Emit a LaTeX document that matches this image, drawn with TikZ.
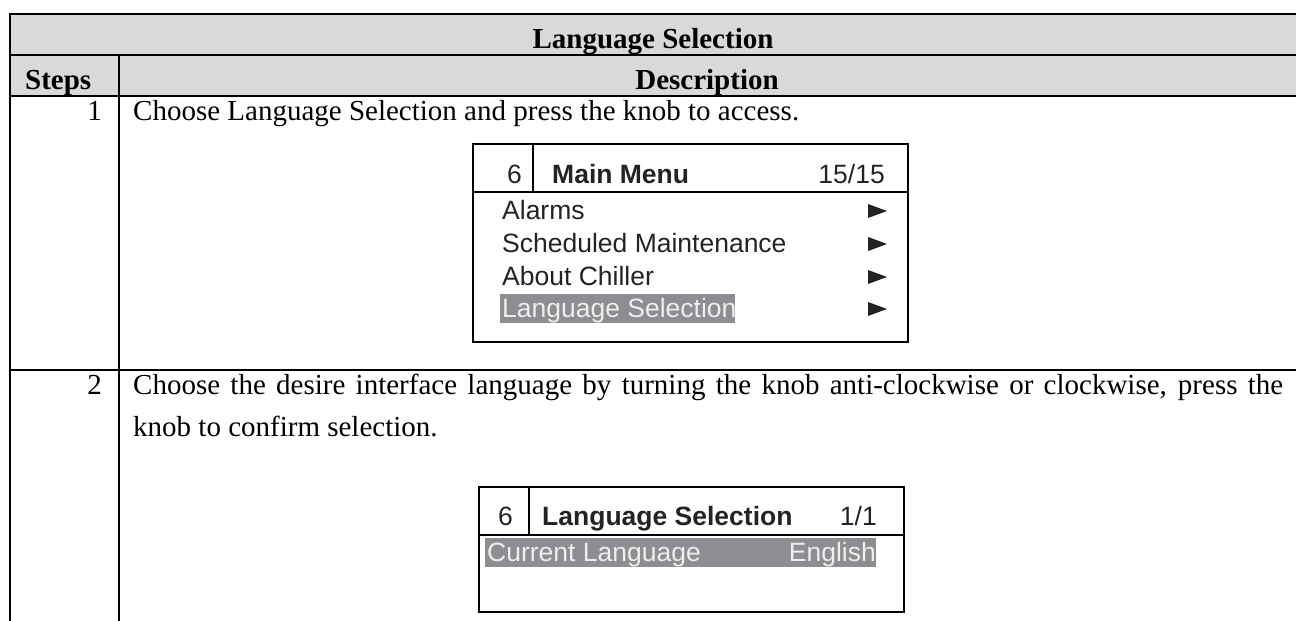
\documentclass[tikz,border=0pt]{standalone}
\usepackage{fontspec}
\setmainfont{Liberation Serif}
\newfontfamily\lcdfont{Liberation Sans}

\begin{document}
\begin{tikzpicture}[x=1pt, y=-1pt]
% Colors
\definecolor{headgray}{RGB}{217,217,217}
\definecolor{selgray}{RGB}{142,142,146}
\definecolor{lcdtext}{RGB}{35,35,35}
\definecolor{seltext}{RGB}{238,238,238}

% Styles
\tikzset{
  body/.style={inner sep=0pt, font=\fontsize{29}{35}\selectfont},
  bodybold/.style={inner sep=0pt, font=\fontsize{29}{35}\selectfont\bfseries},
  lcd/.style={inner sep=0pt, text=lcdtext, font=\lcdfont\fontsize{26.5}{32}\selectfont},
  lcdbold/.style={inner sep=0pt, text=lcdtext, font=\lcdfont\fontsize{26.5}{32}\selectfont\bfseries},
  lcdsel/.style={lcd, text=seltext},
  grid/.style={line width=2pt},
  screen/.style={line width=2.5pt}
}

\useasboundingbox (0,0) rectangle (1296,621);

% Table frame and header shading
\fill[headgray] (10,14) rectangle (1296,96);
\draw[grid] (1296,14) -- (10,14) -- (10,621);
\draw[grid] (10,55) -- (1296,55);
\draw[grid] (10,96) -- (1296,96);
\draw[grid] (10,370) -- (1296,370);
\draw[grid] (119,55) -- (119,621);

% Header texts
\node[bodybold, anchor=base] (title) at (653,48) {Language Selection};
\node[bodybold, anchor=base west] (steps) at (25,89) {Steps};
\node[bodybold, anchor=base] (desc) at (707,89) {Description};

% Step 1
\node[body, anchor=base east] (num1) at (102,120) {1};
\node[body, anchor=base west] (txt1) at (133,120) {Choose Language Selection and press the knob to access.};

% Step 1 screen: main menu
\draw[screen] (473,144) rectangle (908,342);
\draw[grid] (473,192) -- (908,192);
\draw[grid] (533,144) -- (533,192);
\node[lcd, anchor=base east] (mnum) at (522,183) {6};
\node[lcdbold, anchor=base west] (mtitle) at (552,183) {Main Menu};
\node[lcd, anchor=base east] (mpage) at (885,183) {15/15};
\foreach \t/\y [count=\i] in {Alarms/219, Scheduled Maintenance/252, About Chiller/285}{
  \node[lcd, anchor=base west] (item\i) at (502,\y) {\t};
}
\fill[selgray] (500,294) rectangle (735,323);
\node[lcdsel, anchor=base west] (item4) at (502,317) {Language Selection};
\foreach \y in {211,244,277,309}{
  \fill[lcdtext] (868,{\y-7}) -- (887,\y) -- (868,{\y+7}) -- cycle;
}

% Step 2
\node[body, anchor=base east] (num2) at (102,394) {2};
\node[body, anchor=base west] (txt2a) at (133,394) {\makebox[1150pt][s]{Choose the desire interface language by turning the knob anti-clockwise or clockwise, press the}};
\node[body, anchor=base west] (txt2b) at (133,436) {knob to confirm selection.};

% Step 2 screen: language selection
\draw[screen] (479,487) rectangle (904,612);
\draw[grid] (479,535) -- (904,535);
\draw[grid] (529,487) -- (529,535);
\node[lcd, anchor=base east] (lnum) at (513,525) {6};
\node[lcdbold, anchor=base west] (ltitle) at (542,525) {Language Selection};
\node[lcd, anchor=base east] (lpage) at (877,525) {1/1};
\fill[selgray] (485,538) rectangle (876,567);
\node[lcdsel, anchor=base west] (lcur) at (487,561) {Current Language};
\node[lcdsel, anchor=base east] (leng) at (876,561) {English};

\end{tikzpicture}
\end{document}
